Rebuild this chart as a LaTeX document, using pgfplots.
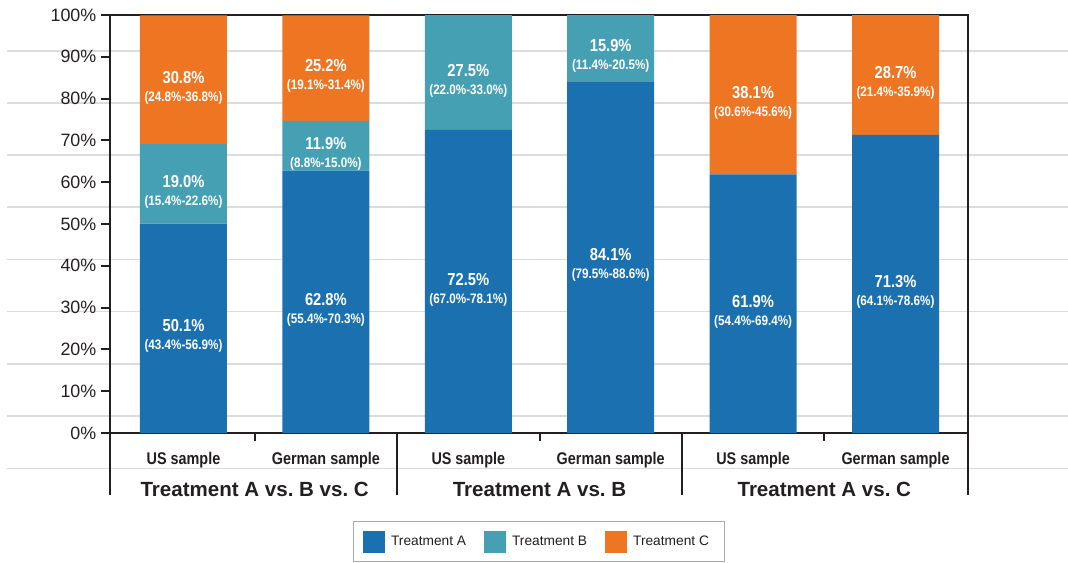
\documentclass[border=0pt]{standalone}
\usepackage{pgfplots}
\pgfplotsset{compat=1.18}
\usepackage{pgfplotstable}
\usepackage{fontspec}
\setmainfont{Liberation Sans}
\newfontfamily\narrow[FakeStretch=0.85]{Liberation Sans}
\definecolor{colA}{RGB}{27,113,175}
\definecolor{colB}{RGB}{70,160,180}
\definecolor{colC}{RGB}{238,118,35}
\definecolor{txt}{RGB}{35,31,32}
\definecolor{gridc}{RGB}{220,220,220}
\protected\def\Vf{\narrow\bfseries\fontsize{13}{15}\selectfont}
\protected\def\Cf{\narrow\bfseries\fontsize{10.3}{12}\selectfont}
\protected\def\nl{\\[1.5pt]}
\protected\def\pc{\%}

% value and 95% interval of each segment
\pgfplotstableread{
x A B C lA lB lC
0 50.1 19.0 30.8 {\Vf50.1\pc\nl\Cf(43.4\pc-56.9\pc)} {\Vf19.0\pc\nl\Cf(15.4\pc-22.6\pc)} {\Vf30.8\pc\nl\Cf(24.8\pc-36.8\pc)}
1 62.8 11.9 25.2 {\Vf62.8\pc\nl\Cf(55.4\pc-70.3\pc)} {\Vf11.9\pc\nl\Cf(8.8\pc-15.0\pc)} {\Vf25.2\pc\nl\Cf(19.1\pc-31.4\pc)}
2 72.5 27.5 0 {\Vf72.5\pc\nl\Cf(67.0\pc-78.1\pc)} {\Vf27.5\pc\nl\Cf(22.0\pc-33.0\pc)} {}
3 84.1 15.9 0 {\Vf84.1\pc\nl\Cf(79.5\pc-88.6\pc)} {\Vf15.9\pc\nl\Cf(11.4\pc-20.5\pc)} {}
4 61.9 0 38.1 {\Vf61.9\pc\nl\Cf(54.4\pc-69.4\pc)} {} {\Vf38.1\pc\nl\Cf(30.6\pc-45.6\pc)}
5 71.3 0 28.7 {\Vf71.3\pc\nl\Cf(64.1\pc-78.6\pc)} {} {\Vf28.7\pc\nl\Cf(21.4\pc-35.9\pc)}
}\data

\begin{document}
\begin{tikzpicture}
% background layout grid lines of the original figure
\foreach \yy in {286.7,247.6,208.4,169.3,130.1,91.0,51.8,12.7,-26.5}
  \draw[gridc, line width=1.2pt] (-77.25pt,\yy pt) -- (718.5pt,\yy pt);
\begin{axis}[
  at={(0,0)}, anchor=south west,
  scale only axis, width=643.5pt, height=313.5pt,
  xmin=-0.516, xmax=5.509, ymin=0, ymax=100,
  ybar stacked, bar width=65.25pt,
  axis line style={line width=1.5pt, color=txt},
  xtick={0,...,5},
  xticklabels={US sample, German sample, US sample, German sample, US sample, German sample},
  xtick style={draw=none},
  xticklabel style={font=\narrow\bfseries\fontsize{12.7}{14}\selectfont, text=txt, anchor=base, yshift=-16.5pt},
  ytick={0,10,...,100}, ytick pos=left, tick align=outside, major tick length=6.75pt,
  ytick style={line width=1.5pt, color=txt},
  yticklabel={\pgfmathprintnumber{\tick}\%},
  yticklabel style={font=\fontsize{13.4}{15}\selectfont, text=txt},
  /pgf/number format/assume math mode=true,
  clip=false,
  legend columns=-1,
  legend style={at={(0.5,0)}, anchor=north, yshift=-65.8pt, draw={rgb,255:red,170;green,170;blue,170}, line width=0.75pt,
    font=\fontsize{10.3}{12}\selectfont, text=txt, inner xsep=7pt, inner ysep=7pt,
    nodes={inner xsep=4.5pt},
    /tikz/every even column/.append style={column sep=9pt}},
  legend image code/.code={\fill[#1] (0pt,-8.25pt) rectangle (16.5pt,8.25pt);},
  point meta=explicit symbolic,
  nodes near coords,
  every node near coord/.append style={align=center, anchor=center, text=white, yshift=-6pt},
]
\addplot[fill=colA, draw=none] table[x=x, y=A, meta=lA] \data;
\addplot[fill=colB, draw=none] table[x=x, y=B, meta=lB] \data;
\addplot[fill=colC, draw=none] table[x=x, y=C, meta=lC] \data;
\legend{Treatment A, Treatment B, Treatment C}
% group separators and ticks
\draw[txt, line width=1.5pt] (rel axis cs:0,0) -- ([yshift=-46.5pt]rel axis cs:0,0);
\draw[txt, line width=1.5pt] (axis cs:1.5,0) -- ([yshift=-46.5pt]axis cs:1.5,0);
\draw[txt, line width=1.5pt] (axis cs:3.5,0) -- ([yshift=-46.5pt]axis cs:3.5,0);
\draw[txt, line width=1.5pt] (rel axis cs:1,0) -- ([yshift=-46.5pt]rel axis cs:1,0);
\draw[txt, line width=1.5pt] (axis cs:0.5,0) -- ([yshift=-6pt]axis cs:0.5,0);
\draw[txt, line width=1.5pt] (axis cs:2.5,0) -- ([yshift=-6pt]axis cs:2.5,0);
\draw[txt, line width=1.5pt] (axis cs:4.5,0) -- ([yshift=-6pt]axis cs:4.5,0);
\node[font=\bfseries\fontsize{15.4}{17}\selectfont, text=txt] at ([yshift=-42.2pt]axis cs:0.5,0) {Treatment A vs.\ B vs.\ C};
\node[font=\bfseries\fontsize{15.4}{17}\selectfont, text=txt] at ([yshift=-42.2pt]axis cs:2.5,0) {Treatment A vs.\ B};
\node[font=\bfseries\fontsize{15.4}{17}\selectfont, text=txt] at ([yshift=-42.2pt]axis cs:4.5,0) {Treatment A vs.\ C};
\end{axis}
\pgfresetboundingbox
\useasboundingbox (-82.5pt,-96.75pt) rectangle (718.5pt,324.75pt);
\end{tikzpicture}
\end{document}
